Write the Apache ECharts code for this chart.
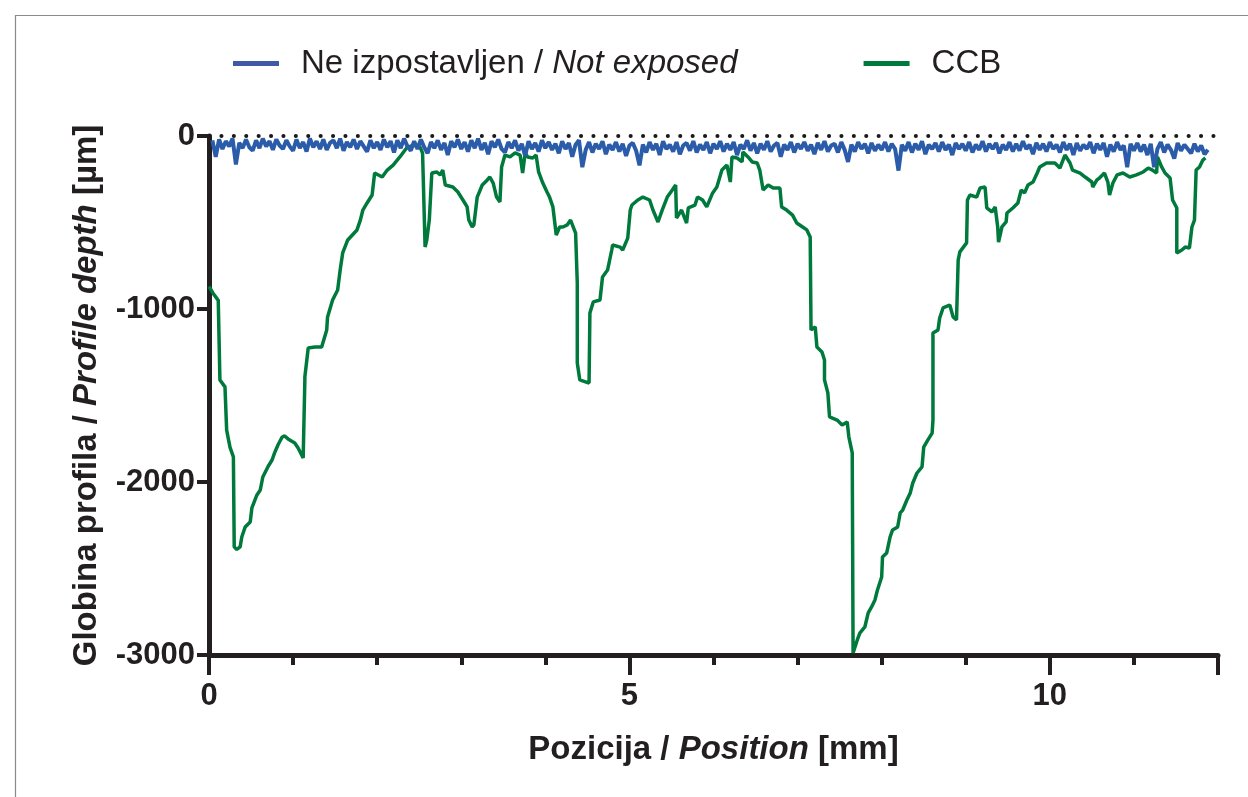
<!DOCTYPE html>
<html>
<head>
<meta charset="utf-8">
<script src="https://cdn.jsdelivr.net/npm/echarts@6/dist/echarts.min.js"></script>
<style>html,body{margin:0;padding:0;background:#fff}#c{width:1248px;height:797px}</style>
</head>
<body>
<div id="c"></div>
<script>
// ---- data ----
const seriesNames = ['Ne izpostavljen / Not exposed', 'CCB'];
const xTickLabels = ['0', '5', '10'];
const yTicks = [0, -1000, -2000, -3000];

// Not exposed profile: evenly sampled from 0.04 mm every 0.04 mm
const blueStart = 0.04;
const blueStep = 0.04;
const blueDepth = [
  -25,-120,-20,-75,-30,-60,-15,-165,-40,-70,-20,-65,-85,-25,-70,-15,-60,-30,-80,-20,-55,-75,-25,-60,-85,
  -20,-70,-35,-90,-15,-65,-30,-75,-20,-80,-40,-25,-70,-15,-85,-35,-65,-20,-75,-30,-60,-90,-25,-70,-35,
  -80,-20,-65,-30,-95,-25,-70,-15,-60,-85,-30,-75,-20,-65,-100,-35,-70,-25,-80,-40,-110,-30,-65,-20,-75,
  -35,-90,-25,-70,-15,-80,-40,-105,-30,-65,-20,-75,-95,-35,-70,-25,-85,-45,-115,-30,-75,-40,-90,-25,-70,
  -35,-80,-45,-100,-30,-75,-40,-120,-50,-25,-180,-80,-35,-95,-45,-75,-30,-105,-50,-80,-35,-90,-45,-115,-55,
  -40,-85,-170,-50,-95,-35,-80,-45,-110,-30,-75,-50,-90,-35,-105,-55,-40,-85,-30,-95,-50,-80,-35,-100,-45,
  -75,-30,-90,-45,-80,-35,-110,-50,-75,-25,-85,-40,-100,-45,-80,-30,-90,-55,-40,-120,-50,-80,-35,-95,-45,
  -75,-35,-85,-50,-105,-40,-80,-30,-90,-55,-45,-95,-35,-80,-150,-50,-90,-35,-75,-45,-100,-40,-85,-50,-80,
  -35,-90,-45,-75,-200,-50,-85,-35,-95,-45,-80,-30,-105,-50,-75,-40,-90,-35,-80,-50,-110,-40,-75,-45,-85,
  -35,-95,-50,-80,-30,-90,-45,-75,-40,-100,-50,-80,-35,-90,-45,-85,-30,-75,-50,-105,-40,-80,-45,-90,-35,
  -75,-50,-95,-35,-80,-45,-110,-40,-85,-50,-75,-35,-100,-45,-80,-40,-120,-50,-90,-35,-80,-55,-180,-45,-85,
  -40,-90,-50,-110,-45,-180,-75,-35,-95,-50,-80,-130,-40,-85,-50,-75,-100,-45,-90,-55,-105,-80
];

// CCB profile
const ccbPos = [
  0,0.05,0.11,0.13,0.13,0.19,0.21,0.25,0.29,0.30,
  0.33,0.37,0.39,0.43,0.49,0.51,0.57,0.61,0.64,0.70,
  0.75,0.78,0.82,0.87,0.90,0.94,1.02,1.06,1.12,1.14,
  1.14,1.18,1.26,1.34,1.40,1.41,1.47,1.53,1.56,1.59,
  1.65,1.76,1.80,1.83,1.88,1.94,1.97,2.06,2.12,2.19,
  2.27,2.35,2.43,2.51,2.54,2.57,2.59,2.62,2.65,2.71,
  2.75,2.78,2.81,2.90,2.96,3.02,3.07,3.09,3.13,3.15,
  3.19,3.25,3.31,3.34,3.38,3.42,3.46,3.48,3.52,3.58,
  3.64,3.70,3.73,3.76,3.79,3.85,3.89,3.92,3.97,4.02,
  4.05,4.09,4.13,4.17,4.21,4.26,4.30,4.36,4.38,4.38,
  4.41,4.52,4.53,4.57,4.65,4.68,4.74,4.79,4.80,4.89,
  4.92,4.98,5.01,5.03,5.10,5.16,5.24,5.28,5.34,5.39,
  5.45,5.51,5.55,5.56,5.62,5.68,5.70,5.78,5.81,5.87,
  5.92,5.99,6.04,6.10,6.16,6.20,6.22,6.28,6.34,6.35,
  6.41,6.46,6.52,6.55,6.59,6.65,6.71,6.79,6.81,6.87,
  6.94,6.99,7.06,7.11,7.15,7.16,7.21,7.23,7.29,7.32,
  7.32,7.36,7.38,7.47,7.53,7.59,7.61,7.65,7.66,7.68,
  7.71,7.74,7.80,7.84,7.88,7.92,7.95,8.00,8.01,8.06,
  8.10,8.13,8.19,8.22,8.25,8.30,8.34,8.37,8.42,8.48,
  8.50,8.55,8.60,8.61,8.61,8.61,8.67,8.69,8.73,8.81,
  8.85,8.89,8.91,8.93,9.01,9.02,9.05,9.13,9.17,9.23,
  9.25,9.31,9.35,9.38,9.39,9.43,9.48,9.49,9.56,9.62,
  9.66,9.70,9.74,9.80,9.85,9.88,9.96,10.06,10.12,10.18,
  10.24,10.27,10.36,10.42,10.50,10.51,10.56,10.59,10.65,10.69,
  10.71,10.75,10.80,10.87,10.95,11.03,11.11,11.17,11.22,11.27,
  11.28,11.33,11.37,11.43,11.46,11.51,11.51,11.57,11.61,11.66,
  11.69,11.72,11.74,11.78,11.82,11.85
];
const ccbDepth = [
  -870,-910,-950,-960,-1410,-1450,-1700,-1800,-1855,-2375,
  -2390,-2375,-2318,-2260,-2231,-2150,-2075,-2046,-1971,-1913,
  -1873,-1832,-1786,-1740,-1734,-1751,-1774,-1803,-1861,-1410,
  -1393,-1225,-1220,-1220,-1121,-1046,-948,-890,-775,-676,
  -601,-543,-486,-428,-387,-341,-214,-237,-197,-168,
  -121,-69,-52,-64,-98,-642,-601,-486,-214,-208,
  -225,-197,-283,-295,-324,-370,-410,-486,-526,-514,
  -353,-283,-254,-237,-272,-353,-381,-179,-110,-121,
  -98,-110,-214,-98,-121,-127,-110,-208,-272,-324,
  -353,-410,-572,-526,-526,-514,-486,-561,-850,-1312,
  -1410,-1428,-1023,-959,-948,-815,-775,-659,-630,-642,
  -659,-590,-428,-399,-370,-353,-370,-428,-497,-428,
  -353,-312,-283,-474,-428,-503,-416,-399,-353,-370,
  -410,-329,-295,-197,-168,-266,-121,-127,-150,-92,
  -121,-150,-156,-197,-312,-283,-301,-301,-410,-428,
  -457,-503,-526,-543,-584,-1121,-1104,-1220,-1248,-1295,
  -1410,-1485,-1624,-1642,-1670,-1653,-1740,-1832,-2988,-2988,
  -2913,-2873,-2838,-2757,-2722,-2682,-2624,-2549,-2433,-2410,
  -2318,-2277,-2260,-2179,-2162,-2104,-2063,-2006,-1948,-1913,
  -1798,-1757,-1717,-1642,-1410,-1139,-1121,-1052,-994,-977,
  -1046,-1063,-717,-670,-618,-370,-341,-353,-301,-295,
  -416,-439,-410,-526,-613,-526,-497,-445,-416,-387,
  -312,-329,-283,-266,-214,-179,-156,-156,-185,-110,
  -156,-197,-214,-237,-266,-295,-254,-243,-214,-266,
  -341,-272,-225,-214,-237,-225,-208,-185,-197,-214,
  -121,-179,-214,-243,-370,-416,-676,-659,-642,-647,
  -526,-486,-197,-179,-139,-127
];
const zeroLine = [[0, 0], [12, 0]];

// ---- build ----
const blueData = blueDepth.map((v, i) => [+(blueStart + i * blueStep).toFixed(3), v]);
const ccbData = ccbPos.map((x, i) => [x, ccbDepth[i]]);

const FONT = 'Liberation Sans, Arial, Helvetica, sans-serif';
const INK = '#231f20';
const BLUE = '#2a5caa';
const GREEN = '#007a3c';

const chart = echarts.init(document.getElementById('c'), null, {renderer: 'canvas'});
chart.setOption({
  backgroundColor: '#fff',
  animation: false,
  graphic: [{
    type: 'rect', left: 13, top: 13, silent: true,
    shape: {width: 1300, height: 900},
    style: {fill: 'none', stroke: '#8a8a8a', lineWidth: 1.2}
  }],
  legend: {
    left: 228, top: 42,
    itemWidth: 46, itemHeight: 5, itemGap: 126,
    icon: 'rect',
    data: [
      {name: seriesNames[0], itemStyle: {color: '#4058a8'}},
      {name: seriesNames[1], itemStyle: {color: GREEN}}
    ],
    formatter: function (name) {
      if (name === seriesNames[0]) return '{n|Ne izpostavljen / }{i|Not exposed}';
      return '{n|' + name + '}';
    },
    textStyle: {
      color: INK, fontSize: 33, fontFamily: FONT, padding: [0, 0, 0, 17],
      rich: {
        n: {color: INK, fontSize: 33, fontFamily: FONT},
        i: {color: INK, fontSize: 33, fontFamily: FONT, fontStyle: 'italic'}
      }
    }
  },
  grid: {left: 209, right: 30, top: 136, bottom: 142, containLabel: false},
  xAxis: [{
    type: 'value', min: 0, max: 12, interval: 1, position: 'bottom',
    axisLine: {show: true, onZero: false, lineStyle: {color: INK, width: 5}},
    axisTick: {show: true, length: 10, lineStyle: {color: INK, width: 4}},
    axisLabel: {show: false},
    splitLine: {show: false},
    name: 'Pozicija / {i|Position} [mm]',
    nameLocation: 'middle', nameGap: 78,
    nameTextStyle: {
      color: INK, fontSize: 33, fontWeight: 'bold', fontFamily: FONT,
      rich: {i: {color: INK, fontSize: 33, fontWeight: 'bold', fontStyle: 'italic', fontFamily: FONT}}
    }
  }, {
    type: 'value', min: 0, max: 12, interval: 5, position: 'bottom',
    axisLine: {show: false, onZero: false},
    axisTick: {show: true, length: 20, lineStyle: {color: INK, width: 4}},
    axisLabel: {
      show: true, margin: 26, color: INK, fontSize: 31, fontWeight: 'bold', fontFamily: FONT,
      formatter: function (v) { return xTickLabels.indexOf(String(v)) >= 0 ? String(v) : ''; }
    },
    splitLine: {show: false}
  }],
  yAxis: {
    type: 'value', min: -3000, max: 0, interval: 1000,
    axisLine: {show: true, onZero: false, lineStyle: {color: INK, width: 5}},
    axisTick: {show: true, length: 12, lineStyle: {color: INK, width: 4}},
    axisLabel: {
      margin: 14, color: INK, fontSize: 31, fontWeight: 'bold', fontFamily: FONT,
      formatter: function (v) { return yTicks.indexOf(v) >= 0 ? String(v) : ''; }
    },
    splitLine: {show: false},
    name: 'Globina profila / {i|Profile depth} [µm]',
    nameLocation: 'middle', nameGap: 106,
    nameTextStyle: {
      color: INK, fontSize: 33, fontWeight: 'bold', fontFamily: FONT,
      rich: {i: {color: INK, fontSize: 33, fontWeight: 'bold', fontStyle: 'italic', fontFamily: FONT}}
    }
  },
  series: [{
    name: seriesNames[1], type: 'line', xAxisIndex: 0, data: ccbData,
    showSymbol: false, symbol: 'none', silent: true,
    lineStyle: {color: GREEN, width: 3.5}, itemStyle: {color: GREEN}, z: 3
  }, {
    name: seriesNames[0], type: 'line', xAxisIndex: 0, data: blueData,
    showSymbol: false, symbol: 'none', silent: true,
    lineStyle: {color: BLUE, width: 4}, itemStyle: {color: BLUE}, z: 4
  }, {
    name: 'zero', type: 'line', xAxisIndex: 0, data: zeroLine,
    showSymbol: false, symbol: 'none', silent: true,
    lineStyle: {color: '#1a1a1a', width: 4, type: [0.1, 12.3], cap: 'round'}, z: 5
  }]
});
</script>
</body>
</html>
